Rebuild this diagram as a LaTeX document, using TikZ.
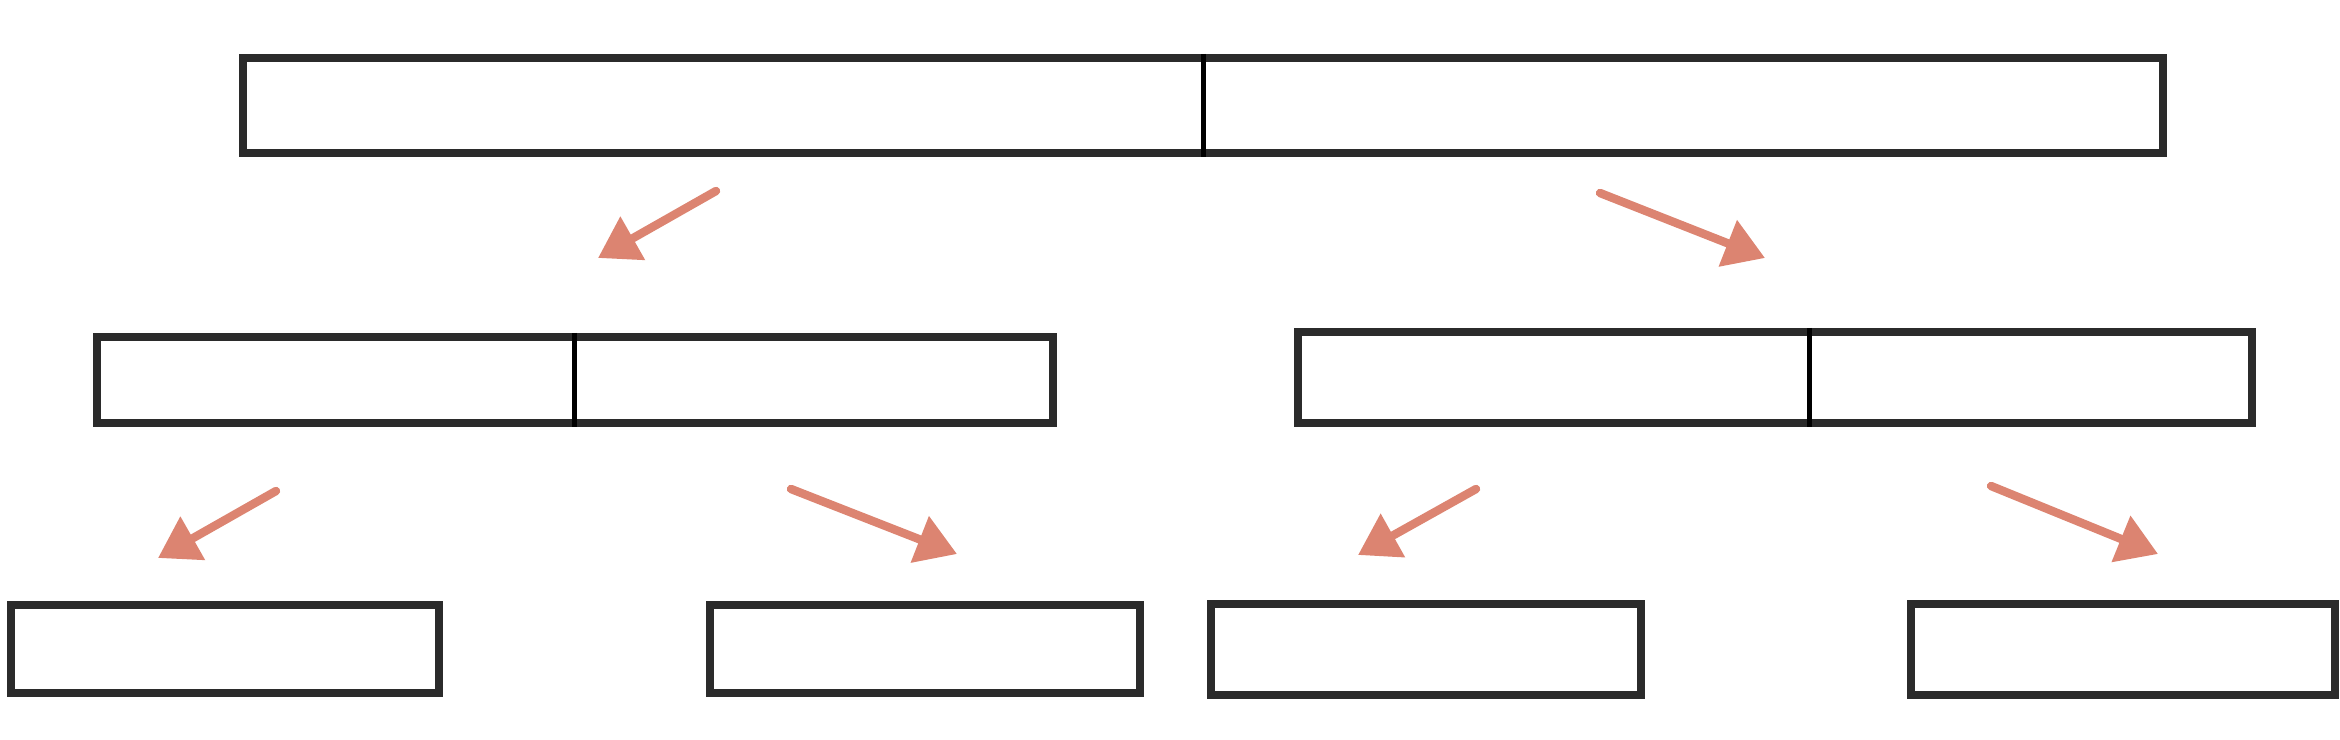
\documentclass[tikz,border=0pt]{standalone}
\usepackage{xcolor}
\usetikzlibrary{arrows.meta,positioning,calc}
\definecolor{BoxLine}{HTML}{2B2B2B}
\definecolor{Salmon}{HTML}{DC8471}

\begin{document}
\begin{tikzpicture}[
  x=0.01cm,y=-0.01cm,
  cell/.style={draw=BoxLine,line width=2.3pt,fill=white,inner sep=0pt,anchor=north west},
  split/.style={draw=black,line width=1.4pt},
  arr/.style={-{Triangle[length=4mm,width=4.8mm]},draw=Salmon,fill=Salmon,line width=2.4pt,line cap=round}
]
\useasboundingbox (0,0) rectangle (2340,740);
% array and its halves
\node[cell,minimum width=19.19cm,minimum height=0.95cm] (whole) at (239,54) {};
\node[cell,minimum width=9.55cm,minimum height=0.86cm] (left) at (93,333) {};
\node[cell,minimum width=9.53cm,minimum height=0.91cm] (right) at (1294,328) {};
% quarters
\node[cell,minimum width=4.28cm,minimum height=0.88cm] (q1) at (7,601) {};
\node[cell,minimum width=4.30cm,minimum height=0.88cm] (q2) at (706,601) {};
\node[cell,minimum width=4.30cm,minimum height=0.91cm] (q3) at (1207,600) {};
\node[cell,minimum width=4.24cm,minimum height=0.91cm] (q4) at (1907,600) {};
% split marks
\draw[split] (whole.north) -- (whole.south);
\draw[split] (left.north) -- (left.south);
\draw[split] ([xshift=5.15cm]right.north west) -- ([xshift=5.15cm]right.south west);
% arrow ends
\coordinate (s1) at (716,191); \coordinate (e1) at (598,258);
\coordinate (s2) at (1600,193); \coordinate (e2) at (1765,258);
\coordinate (s3) at (276,491); \coordinate (e3) at (158,558);
\coordinate (s4) at (791,489); \coordinate (e4) at (957,554);
\coordinate (s5) at (1476,489); \coordinate (e5) at (1358,555);
\coordinate (s6) at (1991,486); \coordinate (e6) at (2158,554);
\foreach \i in {1,...,6}
  \draw[arr] (s\i) -- (e\i);
\end{tikzpicture}
\end{document}
